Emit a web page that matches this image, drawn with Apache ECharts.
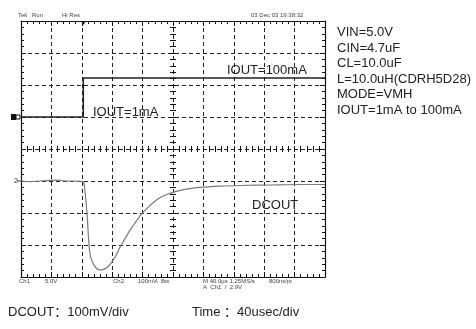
<!DOCTYPE html>
<html><head><meta charset="utf-8">
<script src="https://cdn.jsdelivr.net/npm/echarts@6/dist/echarts.min.js"></script>
<style>html,body{margin:0;padding:0;background:#fff}#c{width:476px;height:329px}</style>
</head><body><div id="c"></div>
<script>
// time axis: 10 div x 40 us ; vertical: 8 div (-4..4)
const timeTicksUs = [0,40,80,120,160,200,240,280,320,360,400];
const dcoutTimeUs = [0,12,25,38,49,58,71,81.5,84,87,89.5,92,96,100,104,109,114.5,120,125,130,137,143,151,159,170,180,191,203,216,235,262,288,328,367,400];
const dcoutDiv   = [-1.0,-1.02,-1.0,-0.98,-0.97,-1.0,-1.0,-1.02,-1.28,-2.06,-3.0,-3.41,-3.62,-3.74,-3.78,-3.76,-3.68,-3.52,-3.33,-3.08,-2.8,-2.55,-2.28,-2.02,-1.76,-1.56,-1.43,-1.33,-1.26,-1.2,-1.16,-1.14,-1.125,-1.11,-1.11];
const ioutTimeUs = [0,82,82,400];
const ioutDiv    = [1.0,1.0,2.22,2.22];
const conditions = ['VIN=5.0V','CIN=4.7uF','CL=10.0uF','L=10.0uH(CDRH5D28)','MODE=VMH','IOUT=1mA to 100mA'];

const chart = echarts.init(document.getElementById('c'), null, {renderer:'canvas'});
const F = '"Liberation Sans", Arial, "Noto Sans CJK SC", sans-serif';
const lineC = '#111';
function xa(extra){ return Object.assign({type:'value',min:0,max:400,interval:40,axisLabel:{show:false},
  axisLine:{show:true,onZero:false,lineStyle:{color:lineC,width:1.2}},
  axisTick:{show:true,inside:true,length:5,lineStyle:{color:lineC}},
  minorTick:{show:true,splitNumber:5,length:3,lineStyle:{color:lineC}},
  splitLine:{show:false},minorSplitLine:{show:false}}, extra); }
function ya(extra){ return Object.assign({type:'value',min:-4,max:4,interval:1,axisLabel:{show:false},
  axisLine:{show:true,onZero:false,lineStyle:{color:lineC,width:1.2}},
  axisTick:{show:true,inside:true,length:5,lineStyle:{color:lineC}},
  minorTick:{show:true,splitNumber:5,length:3,lineStyle:{color:lineC}},
  splitLine:{show:false},minorSplitLine:{show:false}}, extra); }

const grid = {left:21, top:21, width:304, height:256};
const gs = {show:true, lineStyle:{color:'#222',width:1,type:[4,3],dashOffset:0}};
const texts = [];
function T(x,y,s,size,extra){ texts.push({type:'text',x:x,y:y,silent:true,style:Object.assign({text:s,font:size+'px '+F,fill:'#222',verticalAlign:'middle'},extra||{})}); }
T(18,15,'Tek',6,{fill:'#444'}); T(32,15,'Run',6,{fill:'#444'}); T(62,15,'Hi Res',6,{fill:'#444'});
T(251,15,'03 Dec 03 19:38:32',6,{fill:'#444'});
T(19,281,'Ch1',6,{fill:'#444'}); T(45,281,'5.0V',6,{fill:'#444'});
T(113,281,'Ch2',6,{fill:'#444'}); T(138,281,'100mV',6,{fill:'#444'}); T(156,281,'\\  Bw',6,{fill:'#444'});
T(203,281,'M 40.0\u00b5s 1.25MS/s',6,{fill:'#444'}); T(269,281,'800ns/pt',6,{fill:'#444'});
T(203,287,'A  Ch1  /  2.9V',6,{fill:'#444'});
T(14,181,'2',7,{fill:'#333'});
T(80,23,'\u25BC',7,{fill:'#111'});
conditions.forEach((s,i)=>T(337,32.5+15.6*i,s,13));
T(227,70,'IOUT=100mA',13); T(93,112,'IOUT=1mA',13); T(252,205,'DCOUT',13);
T(8,312,'DCOUT\uFF1A100mV/div',13); T(192,312,'Time \uFF1A40usec/div',13);
texts.push({type:'rect',silent:true,shape:{x:11,y:114,width:5,height:6},style:{fill:'#111'}});
texts.push({type:'rect',silent:true,shape:{x:16,y:115,width:4,height:4},style:{fill:'#fff',stroke:'#111',lineWidth:1}});
texts.push({type:'line',silent:true,shape:{x1:17,y1:181,x2:21,y2:181},style:{stroke:'#333',lineWidth:1}});

chart.setOption({
  animation:false,
  grid: grid,
  xAxis:[
    xa({position:'bottom', splitLine:gs}),
    xa({position:'top'}),
    xa({position:'bottom', offset:-131, axisLine:{show:false,onZero:false}, axisTick:{show:true,inside:false,length:6,lineStyle:{color:lineC}}, minorTick:{show:true,splitNumber:5,length:6,lineStyle:{color:lineC}}})
  ],
  yAxis:[
    ya({position:'left', splitLine:gs}),
    ya({position:'right'}),
    ya({position:'left', offset:-155, axisLine:{show:false,onZero:false}, axisTick:{show:true,inside:false,length:6,lineStyle:{color:lineC}}, minorTick:{show:true,splitNumber:5,length:6,lineStyle:{color:lineC}}})
  ],
  series:[
    {type:'line', name:'DCOUT', xAxisIndex:0, yAxisIndex:0, showSymbol:false, smooth:0.3,
     data: dcoutTimeUs.map((t,i)=>[t,dcoutDiv[i]]), lineStyle:{color:'#7a7a7a',width:1.2}, z:5},
    {type:'line', name:'IOUT', xAxisIndex:0, yAxisIndex:0, showSymbol:false,
     data: ioutTimeUs.map((t,i)=>[t,ioutDiv[i]]), lineStyle:{color:'#222',width:1.5}, z:6}
  ],
  graphic: texts
});
</script></body></html>
